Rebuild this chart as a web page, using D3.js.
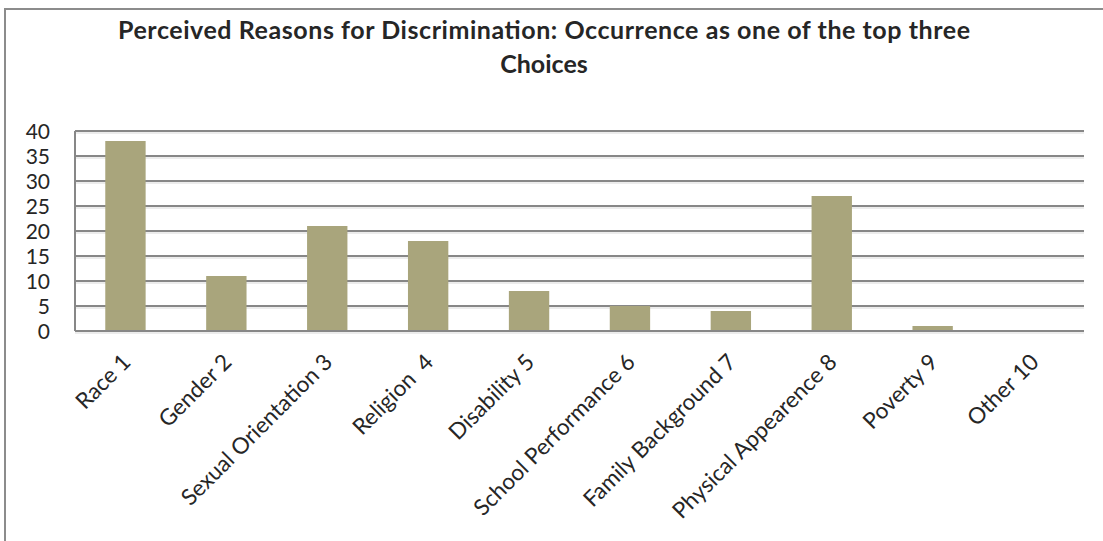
<!DOCTYPE html>
<html><head><meta charset="utf-8">
<script src="https://cdn.jsdelivr.net/npm/d3@7"></script>
<style>
html,body{margin:0;padding:0;background:#fff;}
svg{display:block;}
</style></head>
<body>
<svg id="chart" width="1103" height="541"></svg>
<script>
const categories = ["Race 1","Gender 2","Sexual Orientation 3","Religion  4","Disability 5","School Performance 6","Family Background 7","Physical Appearence 8","Poverty 9","Other 10"];
const values = [38, 11, 21, 18, 8, 5, 4, 27, 1, 0];
const yTicks = [0, 5, 10, 15, 20, 25, 30, 35, 40];
const titleLines = ["Perceived Reasons for Discrimination: Occurrence as one of the top three", "Choices"];

const svg = d3.select("#chart");
const m = {left: 75, right: 1084, top: 131, bottom: 331};
const font = "Lato, 'Open Sans', 'Liberation Sans', sans-serif";

// outer frame
svg.append("rect").attr("x", 5).attr("y", 9).attr("width", 1110).attr("height", 540)
  .attr("fill", "none").attr("stroke", "#8c8c8c").attr("stroke-width", 2);

const x = d3.scaleBand().domain(categories).range([m.left, m.right]).paddingInner(0.6).paddingOuter(0.3);
const y = d3.scaleLinear().domain([0, 40]).range([m.bottom, m.top]);

// gridlines
const grid = svg.append("g");
grid.selectAll("line.s").data(yTicks).join("line")
  .attr("x1", m.left).attr("x2", m.right)
  .attr("y1", d => y(d) + 2).attr("y2", d => y(d) + 2)
  .attr("stroke", "#d9d9d9").attr("stroke-width", 1);
grid.selectAll("line.g").data(yTicks).join("line")
  .attr("x1", m.left).attr("x2", m.right)
  .attr("y1", d => y(d)).attr("y2", d => y(d))
  .attr("stroke", "#878787").attr("stroke-width", 2);

// y axis line
svg.append("line").attr("x1", m.left).attr("x2", m.left).attr("y1", m.top).attr("y2", m.bottom)
  .attr("stroke", "#878787").attr("stroke-width", 2);

// bars
svg.append("g").selectAll("rect").data(values).join("rect")
  .attr("x", (d, i) => x(categories[i]))
  .attr("width", x.bandwidth())
  .attr("y", d => y(d))
  .attr("height", d => y(0) - y(d))
  .attr("fill", "#a9a57c");

// baseline over bars
svg.append("line").attr("x1", m.left).attr("x2", m.right).attr("y1", y(0)).attr("y2", y(0))
  .attr("stroke", "#878787").attr("stroke-width", 2);

// y axis labels
const yAxis = d3.axisLeft(y).tickValues(yTicks).tickSize(0).tickPadding(0);
const ya = svg.append("g").attr("transform", `translate(${m.left - 25},0)`).call(yAxis);
ya.select(".domain").remove();
ya.selectAll("text").attr("font-family", font).attr("font-size", 21).attr("fill", "#262626")
  .attr("dy", "0.35em");

// x axis labels
const xAxis = d3.axisBottom(x).tickSize(0).tickPadding(0);
const xa = svg.append("g").attr("transform", `translate(0,${m.bottom})`).call(xAxis);
xa.select(".domain").remove();
xa.selectAll("text")
  .attr("font-family", font).attr("font-size", 22.5).attr("fill", "#262626")
  .attr("text-anchor", "end").attr("y", 0).attr("dy", "0.35em")
  .attr("transform", "translate(1,27) rotate(-45)")
  .style("white-space", "pre");

// title
svg.append("g").selectAll("text").data(titleLines).join("text")
  .attr("x", 544).attr("y", (d, i) => 39 + i * 34)
  .attr("text-anchor", "middle")
  .attr("textLength", (d, i) => i === 0 ? 852 : null)
  .attr("lengthAdjust", "spacing")
  .attr("font-family", font).attr("font-weight", "bold").attr("font-size", 25)
  .attr("fill", "#262626")
  .text(d => d);
</script>
</body></html>
